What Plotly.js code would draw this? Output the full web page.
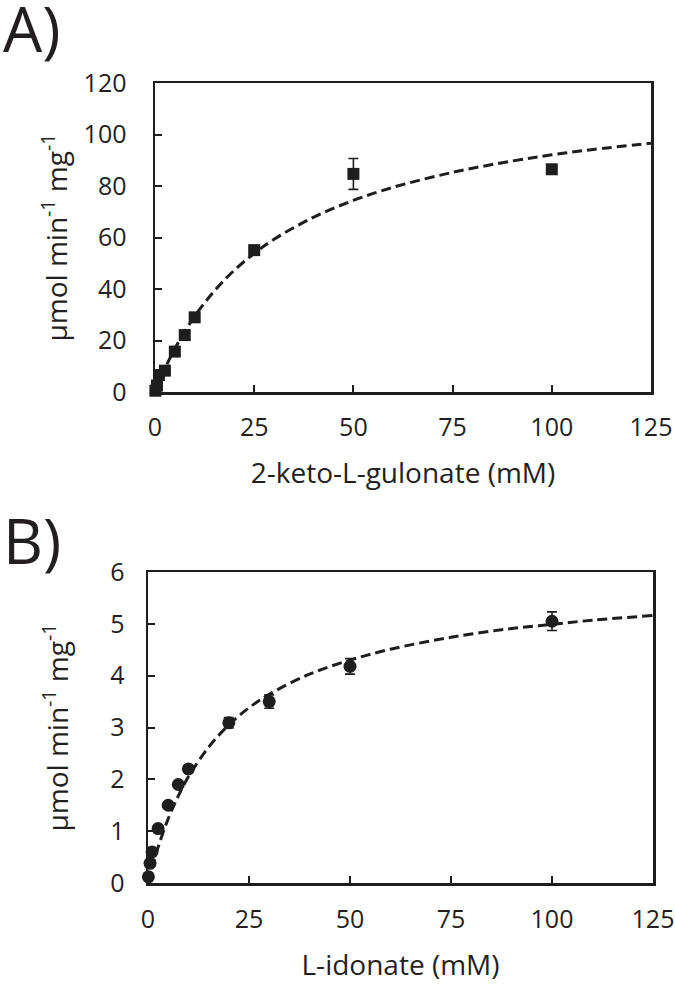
<!DOCTYPE html>
<html>
<head>
<meta charset="utf-8">
<script src="https://cdn.plot.ly/plotly-3.0.1.min.js"></script>
<style>html,body{margin:0;padding:0;background:#fff}#chart{width:675px;height:986px}</style>
</head>
<body>
<div id="chart"></div>
<script>
// Panel A: 2-keto-L-gulonate
const substrateA = [0.1, 0.5, 1, 2.5, 5, 7.5, 10, 25, 50, 100];
const rateA = [0.5, 2.5, 6.6, 8.3, 15.7, 22.1, 29.0, 55.1, 84.7, 86.5];
const errA = [0.3, 0.5, 0.6, 0.8, 1.0, 1.2, 1.3, 1.5, 6.0, 1.5];
const fitXA = [0, 2.5, 5, 10, 15, 20, 25, 30, 40, 50, 60, 75, 90, 100, 110, 125];
const fitYA = [0, 9.0, 16.8, 29.4, 39.3, 47.3, 53.8, 59.3, 67.9, 74.4, 79.5, 85.3, 89.7, 92.1, 94.1, 96.6];

// Panel B: L-idonate
const substrateB = [0.1, 0.5, 1, 2.5, 5, 7.5, 10, 20, 30, 50, 100];
const rateB = [0.12, 0.38, 0.6, 1.05, 1.5, 1.9, 2.2, 3.09, 3.5, 4.18, 5.05];
const errB = [0.02, 0.03, 0.03, 0.04, 0.04, 0.05, 0.06, 0.1, 0.13, 0.15, 0.18];
const fitXB = [0, 1, 2.5, 5, 7.5, 10, 15, 20, 25, 30, 40, 50, 60, 75, 90, 100, 110, 125];
const fitYB = [0, 0.30, 0.69, 1.24, 1.68, 2.05, 2.62, 3.05, 3.38, 3.64, 4.03, 4.30, 4.51, 4.74, 4.91, 4.99, 5.07, 5.16];

const xTicks = [0, 25, 50, 75, 100, 125];
const yTicksA = [0, 20, 40, 60, 80, 100, 120];
const yTicksB = [0, 1, 2, 3, 4, 5, 6];

const ink = '#1e1e1e';
const txt = '#231f20';
const FONT = 'Open Sans, Liberation Sans, sans-serif';

const traces = [
  {x: fitXA, y: fitYA, mode: 'lines', line: {color: ink, width: 3, dash: '10px,5px', shape: 'spline'}, xaxis: 'x', yaxis: 'y', hoverinfo: 'skip'},
  {x: substrateA, y: rateA, mode: 'markers', marker: {symbol: 'square', size: 12, color: ink},
   error_y: {type: 'data', array: errA, visible: true, color: ink, thickness: 1.6, width: 5},
   xaxis: 'x', yaxis: 'y', cliponaxis: false},
  {x: fitXB, y: fitYB, mode: 'lines', line: {color: ink, width: 3, dash: '10px,5px', shape: 'spline'}, xaxis: 'x2', yaxis: 'y2', hoverinfo: 'skip'},
  {x: substrateB, y: rateB, mode: 'markers', marker: {symbol: 'circle', size: 13, color: ink},
   error_y: {type: 'data', array: errB, visible: true, color: ink, thickness: 1.6, width: 5},
   xaxis: 'x2', yaxis: 'y2', cliponaxis: false}
];

function ax(extra) {
  return Object.assign({
    showline: true, mirror: true, linecolor: ink, linewidth: 2.5,
    ticks: 'inside', ticklen: 7, tickwidth: 2, tickcolor: ink,
    showgrid: false, zeroline: false, tickmode: 'array',
    tickfont: {family: FONT, size: 25, color: txt},
    ticklabelstandoff: 12
  }, extra);
}

const W = 675, H = 986;
const layout = {
  width: W, height: H, showlegend: false,
  margin: {l: 0, r: 0, t: 0, b: 0},
  paper_bgcolor: '#fff', plot_bgcolor: '#fff',
  font: {family: FONT, color: txt},
  xaxis: ax({domain: [155 / W, 651 / W], range: [0, 125], tickvals: xTicks, anchor: 'y', ticklabelstandoff: 11,
    title: {text: '2-keto-L-gulonate (mM)', font: {family: FONT, size: 28, color: txt}, standoff: 22}}),
  yaxis: ax({domain: [1 - 392 / H, 1 - 83 / H], range: [0, 120], tickvals: yTicksA, anchor: 'x', ticklabelstandoff: 21,
    title: {text: 'μmol min<sup>-1</sup> mg<sup>-1</sup>', font: {family: FONT, size: 28, color: txt}, standoff: 8}}),
  xaxis2: ax({domain: [148 / W, 653 / W], range: [0, 125], tickvals: xTicks, anchor: 'y2', ticklabelstandoff: 12,
    title: {text: 'L-idonate (mM)', font: {family: FONT, size: 28, color: txt}, standoff: 22}}),
  yaxis2: ax({domain: [1 - 883 / H, 1 - 572 / H], range: [0, 6], tickvals: yTicksB, anchor: 'x2', ticklabelstandoff: 16,
    title: {text: 'μmol min<sup>-1</sup> mg<sup>-1</sup>', font: {family: FONT, size: 28, color: txt}, standoff: 34}}),
  annotations: [
    {text: 'A)', xref: 'paper', yref: 'paper', x: 1 / W, y: 1 - 28 / H, xanchor: 'left', yanchor: 'middle',
     showarrow: false, font: {family: FONT, size: 62, color: txt}},
    {text: 'B)', xref: 'paper', yref: 'paper', x: 1 / W, y: 1 - 540 / H, xanchor: 'left', yanchor: 'middle',
     showarrow: false, font: {family: FONT, size: 62, color: txt}}
  ]
};

Plotly.newPlot('chart', traces, layout, {staticPlot: true, displayModeBar: false});
</script>
</body>
</html>
